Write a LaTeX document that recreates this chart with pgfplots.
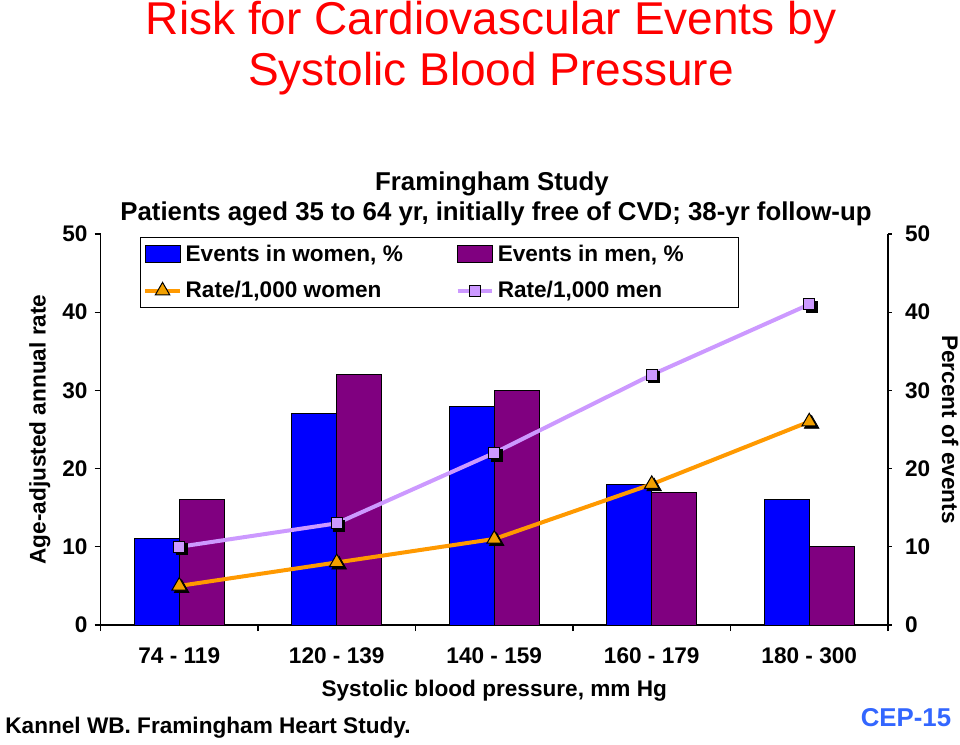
\documentclass[border=0pt]{standalone}
\usepackage{pgfplots}
\pgfplotsset{compat=1.18}
\usepackage{fontspec}
\setmainfont{Liberation Sans}
\definecolor{womenblue}{RGB}{0,0,255}
\definecolor{menpurple}{RGB}{128,0,128}
\definecolor{rateorange}{RGB}{255,153,0}
\definecolor{markorange}{RGB}{242,160,0}
\definecolor{lavender}{RGB}{204,153,255}
\definecolor{cepblue}{RGB}{51,102,255}
\pgfplotsset{
  barlegend/.style={legend image code/.code={\draw[##1] (0pt,-4.25pt) rectangle (17.5pt,4.25pt);}},
}
\newcommand{\lblfont}{\bfseries\fontsize{11.3}{13.5}\selectfont}
\begin{document}
\begin{tikzpicture}
\path[use as bounding box] (0,0) rectangle (480pt,372.5pt);
\node[text=red, font=\fontsize{23}{27}\selectfont] at (245.5pt,361pt) {Risk for Cardiovascular Events by};
\node[text=red, font=\fontsize{23}{27}\selectfont] at (245.5pt,335.5pt) {Systolic Blood Pressure};
\node[font=\bfseries\fontsize{12.9}{15}\selectfont] at (246pt,280.5pt) {Framingham Study};
\node[font=\bfseries\fontsize{12.9}{15}\selectfont] at (248pt,265.5pt) {Patients aged 35 to 64 yr, initially free of CVD; 38-yr follow-up};
\node[font=\lblfont, anchor=west, inner sep=0pt] at (2.5pt,8.5pt) {Kannel WB. Framingham Heart Study.};
\node[font=\bfseries\fontsize{12.9}{15}\selectfont, text=cepblue] at (453pt,13.5pt) {CEP-15};

\begin{axis}[
  at={(50.25pt,60pt)}, anchor=south west, scale only axis,
  width=393.75pt, height=195.5pt,
  xmin=-0.5, xmax=4.5, ymin=0, ymax=50,
  axis x line*=bottom, axis y line*=left, axis line style={-, black, line width=0.6pt},
  tick align=outside, tick style={black, line width=0.6pt},
  xtick={-0.5,0.5,1.5,2.5,3.5,4.5},
  xticklabels={74 - 119,120 - 139,140 - 159,160 - 179,180 - 300},
  x tick label as interval,
  ytick={0,10,20,30,40,50},
  major tick length=3pt,
  /pgf/number format/assume math mode=true,
  tick label style={font=\lblfont},
  xticklabel style={yshift=-5pt},
  xlabel={Systolic blood pressure, mm Hg},
  xlabel style={at={(axis description cs:0.5,-0.169)}, anchor=center, font=\lblfont},
  ylabel={Age-adjusted annual rate},
  ylabel style={at={(axis description cs:-0.077,0.5)}, anchor=center, font=\lblfont},
  legend style={at={(axis description cs:0.05,0.992)}, anchor=north west, draw=black, line width=0.6pt,
    legend columns=2, font=\lblfont, cells={anchor=west},
    row sep=4.5pt, inner sep=1.5pt},
]
\addplot[ybar, bar width=22.5pt, bar shift=-11.25pt, fill=womenblue, draw=black, line width=0.5pt, barlegend]
  coordinates {(0,11) (1,27) (2,28) (3,18) (4,16)};
\addlegendentry{\makebox[133pt][l]{Events in women, \%}}
\addplot[ybar, bar width=22.5pt, bar shift=11.25pt, fill=menpurple, draw=black, line width=0.5pt, barlegend]
  coordinates {(0,16) (1,32) (2,30) (3,17) (4,10)};
\addlegendentry{\makebox[117pt][l]{Events in men, \%}}
% shadows of markers
\addplot[only marks, mark=triangle*, mark size=4.2pt, fill=black, draw=black, forget plot,
  mark options={xshift=1.2pt, yshift=-1.2pt}]
  coordinates {(0,5) (1,8) (2,11) (3,18) (4,26)};
\addplot[rateorange, line width=2pt, mark=triangle*, mark size=4.2pt,
  mark options={fill=markorange, draw=black, line width=0.5pt}]
  coordinates {(0,5) (1,8) (2,11) (3,18) (4,26)};
\addlegendentry{Rate/1,000 women}
\addplot[only marks, mark=square*, mark size=2.8pt, fill=black, draw=black, forget plot,
  mark options={xshift=1.2pt, yshift=-1.2pt}]
  coordinates {(0,10) (1,13) (2,22) (3,32) (4,41)};
\addplot[lavender, line width=2pt, mark=square*, mark size=2.8pt,
  mark options={fill=lavender, draw=black, line width=0.5pt}]
  coordinates {(0,10) (1,13) (2,22) (3,32) (4,41)};
\addlegendentry{Rate/1,000 men}
\end{axis}

\begin{axis}[
  at={(50.25pt,60pt)}, anchor=south west, scale only axis,
  width=393.75pt, height=195.5pt,
  xmin=-0.5, xmax=4.5, ymin=0, ymax=50,
  axis x line=none, axis y line*=right, axis line style={-, black, line width=0.6pt},
  tick align=outside, tick style={black, line width=0.6pt},
  ytick={0,10,20,30,40,50}, major tick length=2pt,
  /pgf/number format/assume math mode=true,
  tick label style={font=\lblfont},
  yticklabel style={xshift=3pt},
  ylabel={Percent of events},
  ylabel style={at={(axis description cs:1.079,0.5)}, anchor=center, rotate=180, font=\lblfont},
]
\addplot[draw=none, forget plot] coordinates {(0,0)};
\end{axis}
\end{tikzpicture}
\end{document}
